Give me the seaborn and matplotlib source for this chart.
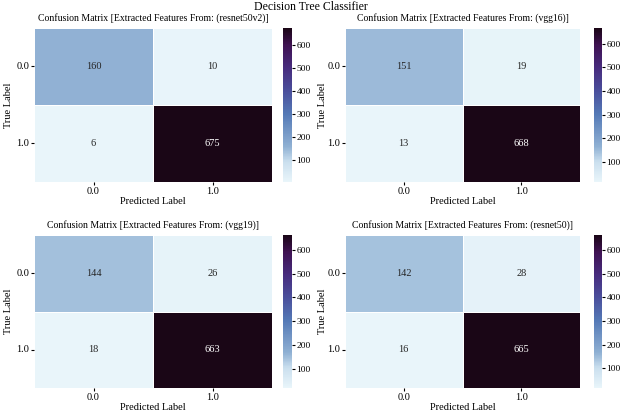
import numpy as np
import pandas as pd
import seaborn as sns
import matplotlib.pyplot as plt
from matplotlib.colors import LinearSegmentedColormap

# Confusion matrices
labels = ['0.0', '1.0']
models = ['resnet50v2', 'vgg16', 'vgg19', 'resnet50']
cm_resnet50v2 = [[160, 10], [6, 675]]
cm_vgg16 = [[151, 19], [13, 668]]
cm_vgg19 = [[144, 26], [18, 663]]
cm_resnet50 = [[142, 28], [16, 665]]
matrices = [cm_resnet50v2, cm_vgg16, cm_vgg19, cm_resnet50]

# light blue -> blue -> purple -> near black
cmap = LinearSegmentedColormap.from_list('bupk', [
    (0.00, '#e9f5fa'),
    (0.13, '#cadfee'),
    (0.23, '#8fb0d3'),
    (0.44, '#5479b6'),
    (0.59, '#4a4f9c'),
    (0.74, '#472c7e'),
    (0.89, '#3f1252'),
    (1.00, '#1a0616'),
])

plt.rcParams['font.family'] = ['Liberation Serif', 'DejaVu Serif']
plt.rcParams['font.size'] = 7.5

fig = plt.figure(figsize=(6.21, 4.11), dpi=100)
W, H = 621, 411

# axes boxes in pixels: (left, top, right, bottom), colorbar left, colorbar width, ylabel offset
boxes = [
    (34, 28, 272, 182, 283, 9, 21),
    (345, 28, 580, 182, 594, 8, 18),
    (34, 235, 272, 388, 283, 9, 21),
    (345, 235, 580, 388, 594, 8, 18),
]

for name, cm, (l, t, r, b, cl, cw, yoff) in zip(models, matrices, boxes):
    ax = fig.add_axes([l / W, 1 - b / H, (r - l) / W, (b - t) / H])
    cax = fig.add_axes([cl / W, 1 - b / H, cw / W, (b - t) / H])
    df = pd.DataFrame(cm, index=labels, columns=labels)
    sns.heatmap(df, annot=True, fmt='d', cmap=cmap, ax=ax, cbar_ax=cax,
                linewidths=0.4, linecolor='white',
                annot_kws={'fontsize': 7.5})
    ax.set_title(f'Confusion Matrix [Extracted Features From: ({name})]', fontsize=7, pad=5)
    ax.set_xlabel('Predicted Label', fontsize=7.5)
    ax.set_ylabel('True Label', fontsize=7.5)
    ax.tick_params(labelsize=7.5, length=2, pad=1.5)
    ax.set_yticklabels(labels, rotation=0)
    ax.xaxis.set_label_coords(0.5, -0.1)
    ax.yaxis.set_label_coords(-yoff / (r - l), 0.5)
    cax.tick_params(labelsize=6.8, length=2, pad=1.2)
    cax.yaxis.set_ticks([100, 200, 300, 400, 500, 600])

fig.suptitle('Decision Tree Classifier', fontsize=8.5, y=0.997)

plt.savefig('out.png', dpi=100)
